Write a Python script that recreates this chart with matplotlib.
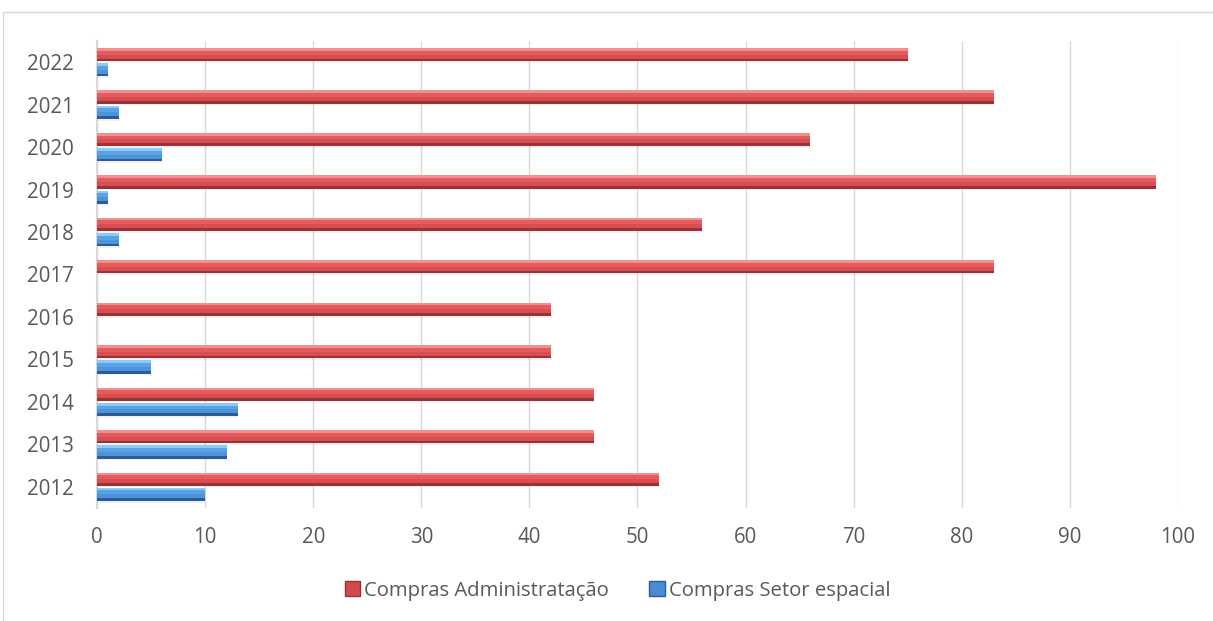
"""Compras Administração x Setor espacial, barras horizontais 2012-2022."""

import matplotlib
matplotlib.use("Agg")
import matplotlib.pyplot as plt
from matplotlib.patches import Patch, Rectangle
import numpy as np

anos = ["2012", "2013", "2014", "2015", "2016", "2017",
        "2018", "2019", "2020", "2021", "2022"]
compras_admin = [52, 46, 46, 42, 42, 83, 56, 98, 66, 83, 75]
compras_setor = [10, 12, 13, 5, 0, 0, 2, 1, 6, 2, 1]

nomes = ["Compras Administratação", "Compras Setor espacial"]

# faixas (topo -> base) para imitar o bisel do Excel
faixas_vermelho = ["#F29090", "#E35B5D", "#D64E51", "#9B3134"]
faixas_azul = ["#8CCBF8", "#5AA2E6", "#4E93DA", "#2B5C98"]
frac = [0.2, 0.3, 0.3, 0.2]

plt.rcParams["font.family"] = ["Open Sans", "DejaVu Sans"]

fig = plt.figure(figsize=(12.13, 6.21), dpi=100)
ax = fig.add_axes([0.080, 0.182, 0.891, 0.752])

y = np.arange(len(anos))
off = 0.18
h = 0.31


def barra_bisel(ax, ys, vals, faixas):
    base = ys - h / 2
    acum = h
    for cor, f in zip(faixas, frac):
        acum -= h * f
        ax.barh(base + acum, vals, height=h * f, left=0, align="edge",
                color=cor, linewidth=0, zorder=3)
    # sombra leve
    ax.barh(ys - h / 2 - 0.04, vals, height=0.04, align="edge",
            color="#000000", alpha=0.06, linewidth=0, zorder=2)


barra_bisel(ax, y + off, np.array(compras_admin), faixas_vermelho)
barra_bisel(ax, y - off, np.array(compras_setor), faixas_azul)

ax.set_xlim(0, 100)
ax.set_ylim(-0.5, len(anos) - 0.5)
ax.set_xticks(np.arange(0, 101, 10))
ax.set_yticks(y)
ax.set_yticklabels(anos)
ax.tick_params(axis="both", length=0, labelsize=14.8, colors="#595959")
ax.tick_params(axis="y", pad=17)
ax.tick_params(axis="x", pad=14)
ax.grid(axis="x", color="#D9D9D9", linewidth=1, zorder=0)
ax.set_axisbelow(True)
for lado in ["top", "right", "bottom"]:
    ax.spines[lado].set_visible(False)
ax.spines["left"].set_color("#D9D9D9")
ax.spines["left"].set_linewidth(1.5)

handles = [Patch(facecolor="#D24A4D", edgecolor="#9B3134"),
           Patch(facecolor="#4A8CD3", edgecolor="#2B5C98")]
fig.legend(handles, nomes, loc="center", bbox_to_anchor=(0.509, 0.049),
           ncol=2, frameon=False, fontsize=14.6, handlelength=0.75,
           handleheight=0.75, handletextpad=0.2, columnspacing=2.0,
           labelcolor="#595959")

# moldura do gráfico
fig.patches.append(Rectangle((3 / 1213, -0.1), 2, 1 - 12 / 621 + 0.1,
                             transform=fig.transFigure, fill=False,
                             edgecolor="#D9D9D9", linewidth=1))

fig.savefig("out.png", dpi=100)
plt.close(fig)
